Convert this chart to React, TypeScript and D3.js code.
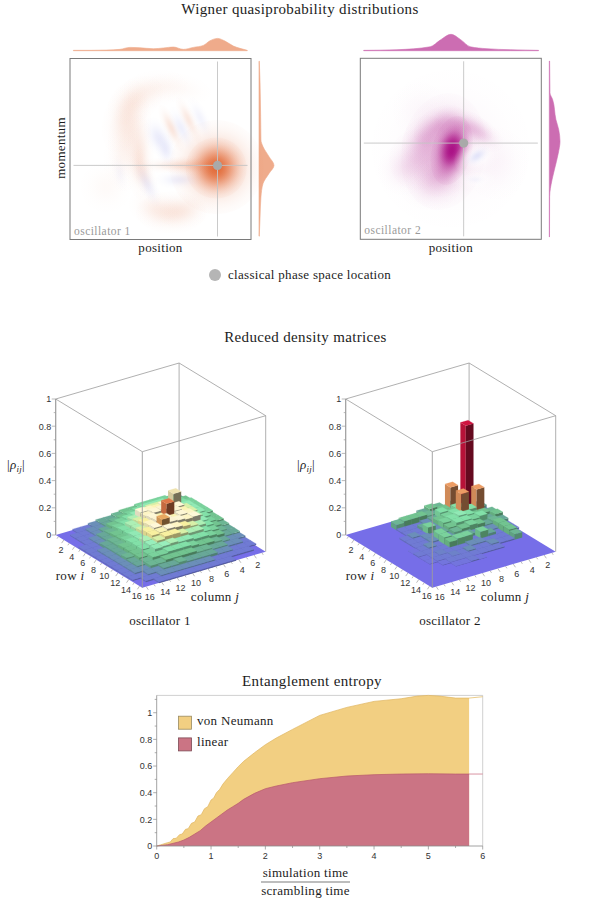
import React from 'react';
import * as d3 from 'd3';

// Wigner plots: blobs are gaussians, x / p in frame units (-10..10)
type Blob = { x: number; p: number; sx: number; sp: number; angle: number; amp: number };

const wigner1Blobs: Blob[] = [
  { x: 6.2, p: -2.0, sx: 2.0, sp: 2.0, angle: 0, amp: 0.45 },
  { x: 6.15, p: -2.1, sx: 1.3, sp: 1.3, angle: 0, amp: 0.85 },
  { x: 1.2, p: -7.0, sx: 1.5, sp: 0.9, angle: 0, amp: 0.13 },
  { x: -0.8, p: -6.5, sx: 1.1, sp: 0.8, angle: 20, amp: 0.06 },
  { x: 2.9, p: -6.6, sx: 1.2, sp: 0.8, angle: -15, amp: 0.06 },
  { x: -3.4, p: 1.7, sx: 0.9, sp: 1.8, angle: 10, amp: 0.1 },
  { x: -3.9, p: 3.6, sx: 0.9, sp: 1.6, angle: 20, amp: 0.09 },
  { x: -2.8, p: 5.4, sx: 1.3, sp: 0.9, angle: -35, amp: 0.09 },
  { x: -0.8, p: 6.6, sx: 1.5, sp: 0.8, angle: -10, amp: 0.06 },
  { x: 2.1, p: 6.7, sx: 1.5, sp: 0.7, angle: 10, amp: 0.03 },
  { x: -2.3, p: -0.85, sx: 0.6, sp: 1.8, angle: 0, amp: 0.13 },
  { x: -1.9, p: -2.7, sx: 0.5, sp: 1.1, angle: -20, amp: 0.08 },
  { x: -4.1, p: -1.2, sx: 0.9, sp: 1.4, angle: 0, amp: 0.04 },
  { x: -6.0, p: -4.2, sx: 1.2, sp: 1.2, angle: 0, amp: 0.03 },
  { x: 1.4, p: -1.8, sx: 1.6, sp: 0.36, angle: 0, amp: 0.1 },
  { x: 3.6, p: -1.8, sx: 1.4, sp: 0.42, angle: 0, amp: 0.14 },
  { x: 1.2, p: 2.3, sx: 0.33, sp: 1.1, angle: -25, amp: 0.16 },
  { x: 3.1, p: 3.2, sx: 0.33, sp: 1.1, angle: -25, amp: 0.14 },
  { x: 2.3, p: 2.3, sx: 0.38, sp: 1.0, angle: -25, amp: -0.2 },
  { x: 4.4, p: 3.4, sx: 0.36, sp: 1.0, angle: -25, amp: -0.14 },
  { x: -0.2, p: 1.2, sx: 0.55, sp: 0.95, angle: -25, amp: -0.24 },
  { x: 0.6, p: -0.1, sx: 0.42, sp: 0.75, angle: -10, amp: -0.2 },
  { x: -1.5, p: -3.8, sx: 0.4, sp: 1.1, angle: -25, amp: -0.2 },
  { x: 2.0, p: -3.4, sx: 1.0, sp: 0.4, angle: 0, amp: -0.2 },
  { x: -4.5, p: -2.7, sx: 0.35, sp: 0.8, angle: -10, amp: -0.08 },
];

const wigner2Blobs: Blob[] = [
  { x: 0, p: 0, sx: 3.4, sp: 3.4, angle: 0, amp: 0.05 },
  { x: -3.4, p: 4.3, sx: 1.4, sp: 1.4, angle: 0, amp: 0.02 },
  { x: 5, p: -1.6, sx: 1.5, sp: 1.7, angle: 0, amp: 0.03 },
  { x: -0.8, p: -0.3, sx: 1.8, sp: 2.5, angle: 10, amp: 0.3 },
  { x: -1.2, p: 2.5, sx: 1.2, sp: 0.8, angle: -30, amp: 0.22 },
  { x: 1.4, p: 2.5, sx: 1.3, sp: 0.7, angle: 20, amp: 0.22 },
  { x: 3.3, p: 1.7, sx: 1.1, sp: 0.6, angle: 35, amp: 0.14 },
  { x: -3.0, p: 1.0, sx: 0.9, sp: 1.1, angle: 30, amp: 0.16 },
  { x: -3.7, p: -1.2, sx: 1.2, sp: 1.3, angle: 0, amp: 0.14 },
  { x: -5.2, p: -2.3, sx: 1.1, sp: 1.1, angle: 0, amp: 0.07 },
  { x: -2.3, p: -4.2, sx: 1.3, sp: 1.0, angle: 0, amp: 0.07 },
  { x: -1.2, p: -3, sx: 1.1, sp: 0.9, angle: 0, amp: 0.14 },
  { x: 0.1, p: -0.2, sx: 0.85, sp: 1.5, angle: 14, amp: 1 },
  { x: 0.3, p: 0.4, sx: 0.7, sp: 0.85, angle: 14, amp: 0.45 },
];
const wigner2Clear: Blob[] = [
  { x: 2.9, p: -0.9, sx: 1.0, sp: 0.72, angle: -20, amp: 1 },
  { x: 2.7, p: -3.4, sx: 1.1, sp: 0.5, angle: 0, amp: 0.6 },
];
const wigner2Negative: Blob[] = [
  { x: 2.9, p: -0.8, sx: 0.62, sp: 0.34, angle: -35, amp: -0.34 },
  { x: 2.7, p: -3.4, sx: 0.5, sp: 0.22, angle: 0, amp: -0.1 },
];

const classical1 = { x: 6.3, p: -1.81 };
const classical2 = { x: 1.42, p: 0.63 };

const marginal1TopX = [-9.63, -7.79, -5.95, -4.48, -3.37, -2.27, -0.79, 0.31, 1.42, 2.52, 3.63, 4.73, 5.47, 6.32, 7.13, 8.05, 8.78, 9.59];
const marginal1TopV = [0.03, 0.03, 0.05, 0.11, 0.27, 0.24, 0.16, 0.22, 0.3, 0.11, 0.27, 0.43, 0.81, 1, 0.78, 0.38, 0.19, 0.03];
const marginal1SideP = [9.7, 7.3, 3.6, 1, 0.26, -0.85, -1.81, -2.7, -3.81, -5.3, -7.52, -9.63];
const marginal1SideV = [0.02, 0.07, 0.11, 0.13, 0.27, 0.67, 1, 0.67, 0.27, 0.13, 0.07, 0.02];
const marginal2TopX = [-9.63, -5.95, -2.27, -1.16, 0.02, 1.05, 2.15, 4, 6.57, 9.7];
const marginal2TopV = [0.02, 0.06, 0.24, 0.65, 1, 0.69, 0.24, 0.12, 0.06, 0.02];
const marginal2SideP = [9.7, 6.19, 5.44, 3.22, 2.11, 0.81, -0.48, -2.33, -3.44, -5.3, -9.74];
const marginal2SideV = [0.03, 0.06, 0.31, 0.62, 0.88, 1, 0.84, 0.47, 0.25, 0.03, 0.02];

// |rho_ij| read per cell, row i down the list, column j across
const rho1 = [
  [0.03, 0.05, 0.06, 0.06, 0.06, 0.06, 0.05, 0.05, 0.04, 0.03, 0.03, 0.02, 0.01, 0.01, 0.00, 0.00],
  [0.05, 0.07, 0.07, 0.08, 0.08, 0.08, 0.07, 0.06, 0.05, 0.04, 0.03, 0.02, 0.02, 0.01, 0.01, 0.00],
  [0.06, 0.07, 0.16, 0.07, 0.10, 0.10, 0.09, 0.08, 0.07, 0.06, 0.05, 0.03, 0.02, 0.01, 0.01, 0.00],
  [0.06, 0.08, 0.07, 0.09, 0.13, 0.12, 0.125, 0.13, 0.09, 0.07, 0.06, 0.04, 0.03, 0.02, 0.01, 0.00],
  [0.06, 0.08, 0.10, 0.13, 0.14, 0.14, 0.135, 0.125, 0.10, 0.09, 0.07, 0.05, 0.03, 0.02, 0.01, 0.01],
  [0.06, 0.08, 0.10, 0.12, 0.14, 0.21, 0.12, 0.135, 0.115, 0.09, 0.07, 0.05, 0.04, 0.03, 0.01, 0.01],
  [0.05, 0.07, 0.09, 0.125, 0.135, 0.12, 0.14, 0.14, 0.125, 0.10, 0.08, 0.06, 0.04, 0.03, 0.02, 0.01],
  [0.05, 0.06, 0.08, 0.13, 0.125, 0.135, 0.14, 0.175, 0.13, 0.115, 0.08, 0.07, 0.05, 0.03, 0.02, 0.01],
  [0.04, 0.05, 0.07, 0.09, 0.10, 0.115, 0.125, 0.13, 0.12, 0.115, 0.09, 0.07, 0.05, 0.03, 0.02, 0.01],
  [0.03, 0.04, 0.06, 0.07, 0.09, 0.09, 0.10, 0.115, 0.115, 0.10, 0.085, 0.07, 0.05, 0.04, 0.02, 0.01],
  [0.03, 0.03, 0.05, 0.06, 0.07, 0.07, 0.08, 0.08, 0.09, 0.085, 0.08, 0.06, 0.05, 0.03, 0.02, 0.01],
  [0.02, 0.02, 0.03, 0.04, 0.05, 0.05, 0.06, 0.07, 0.07, 0.07, 0.06, 0.06, 0.04, 0.03, 0.02, 0.01],
  [0.01, 0.02, 0.02, 0.03, 0.03, 0.04, 0.04, 0.05, 0.05, 0.05, 0.05, 0.04, 0.04, 0.02, 0.02, 0.01],
  [0.01, 0.01, 0.01, 0.02, 0.02, 0.03, 0.03, 0.03, 0.03, 0.04, 0.03, 0.03, 0.02, 0.02, 0.01, 0.01],
  [0.00, 0.01, 0.01, 0.01, 0.01, 0.01, 0.02, 0.02, 0.02, 0.02, 0.02, 0.02, 0.02, 0.01, 0.01, 0.00],
  [0.00, 0.00, 0.00, 0.00, 0.01, 0.01, 0.01, 0.01, 0.01, 0.01, 0.01, 0.01, 0.01, 0.01, 0.00, 0.00],
];
const rho2 = [
  [0.00, 0.01, 0.03, 0.01, 0.04, 0.05, 0.03, 0.01, 0.01, 0.00, 0.00, 0.00, 0.00, 0.00, 0.00, 0.00],
  [0.01, 0.62, 0.03, 0.20, 0.05, 0.03, 0.04, 0.05, 0.05, 0.05, 0.04, 0.00, 0.00, 0.00, 0.00, 0.00],
  [0.03, 0.03, 0.06, 0.07, 0.05, 0.07, 0.03, 0.02, 0.01, 0.01, 0.01, 0.00, 0.00, 0.00, 0.00, 0.00],
  [0.01, 0.20, 0.07, 0.20, 0.07, 0.06, 0.05, 0.02, 0.03, 0.01, 0.01, 0.00, 0.00, 0.00, 0.00, 0.00],
  [0.04, 0.05, 0.05, 0.07, 0.08, 0.07, 0.06, 0.02, 0.06, 0.01, 0.02, 0.01, 0.00, 0.00, 0.00, 0.00],
  [0.05, 0.03, 0.07, 0.06, 0.07, 0.07, 0.05, 0.03, 0.01, 0.02, 0.01, 0.01, 0.00, 0.00, 0.00, 0.00],
  [0.03, 0.04, 0.03, 0.05, 0.06, 0.05, 0.04, 0.02, 0.06, 0.02, 0.01, 0.01, 0.00, 0.00, 0.00, 0.00],
  [0.01, 0.05, 0.02, 0.02, 0.02, 0.03, 0.02, 0.01, 0.06, 0.01, 0.02, 0.01, 0.005, 0.00, 0.00, 0.00],
  [0.01, 0.05, 0.01, 0.03, 0.06, 0.01, 0.06, 0.06, 0.05, 0.01, 0.01, 0.01, 0.01, 0.00, 0.00, 0.00],
  [0.00, 0.05, 0.01, 0.01, 0.01, 0.02, 0.02, 0.01, 0.01, 0.01, 0.015, 0.01, 0.005, 0.00, 0.00, 0.00],
  [0.00, 0.04, 0.01, 0.01, 0.02, 0.01, 0.01, 0.02, 0.01, 0.015, 0.01, 0.01, 0.005, 0.00, 0.00, 0.00],
  [0.00, 0.00, 0.00, 0.00, 0.01, 0.01, 0.01, 0.01, 0.01, 0.01, 0.01, 0.005, 0.00, 0.00, 0.00, 0.00],
  [0.00, 0.00, 0.00, 0.00, 0.00, 0.00, 0.00, 0.005, 0.01, 0.005, 0.005, 0.00, 0.00, 0.00, 0.00, 0.00],
  [0.00, 0.00, 0.00, 0.00, 0.00, 0.00, 0.00, 0.00, 0.00, 0.00, 0.00, 0.00, 0.00, 0.00, 0.00, 0.00],
  [0.00, 0.00, 0.00, 0.00, 0.00, 0.00, 0.00, 0.00, 0.00, 0.00, 0.00, 0.00, 0.00, 0.00, 0.00, 0.00],
  [0.00, 0.00, 0.00, 0.00, 0.00, 0.00, 0.00, 0.00, 0.00, 0.00, 0.00, 0.00, 0.00, 0.00, 0.00, 0.00],
];
const rhoColorStops = [0, 0.015, 0.03, 0.05, 0.07, 0.085, 0.1, 0.115, 0.13, 0.15, 0.16, 0.175, 0.2, 0.21, 0.4, 0.62];
const rhoColors = ['#766ee8', '#6d82c8', '#68a898', '#72c490', '#82e0a8', '#98eebc', '#d8f0a8', '#f8f0a0', '#fff8d8', '#f6eecc', '#efe3b0', '#e8a860', '#ec9c64', '#e07848', '#d85040', '#cf1440'];
const zTicks = [0, 0.2, 0.4, 0.6, 0.8, 1];
const matrixTicks = [2, 4, 6, 8, 10, 12, 14, 16];

// entanglement entropy
const timeV = [0, 0.1, 0.2, 0.25, 0.3, 0.36, 0.42, 0.47, 0.53, 0.58, 0.64, 0.7, 0.76, 0.82, 0.88, 0.94, 1, 1.05, 1.1, 1.16, 1.22, 1.3, 1.4, 1.5, 1.6, 1.8, 2, 2.2, 2.5, 3, 3.5, 4, 4.5, 4.8, 5, 5.2, 5.5, 5.75];
const vonNeumann = [0, 0.012, 0.025, 0.03, 0.055, 0.058, 0.085, 0.09, 0.125, 0.13, 0.17, 0.18, 0.225, 0.235, 0.28, 0.295, 0.345, 0.36, 0.40, 0.425, 0.465, 0.505, 0.55, 0.595, 0.635, 0.70, 0.76, 0.81, 0.875, 0.98, 1.04, 1.085, 1.105, 1.125, 1.13, 1.125, 1.11, 1.11];
const timeL = [0, 0.2, 0.4, 0.5, 0.6, 0.7, 0.8, 0.9, 1, 1.1, 1.2, 1.3, 1.4, 1.5, 1.6, 1.8, 2, 2.2, 2.5, 3, 3.5, 4, 4.5, 5, 5.5, 5.75];
const linearEntropy = [0, 0.01, 0.03, 0.045, 0.065, 0.09, 0.115, 0.15, 0.18, 0.21, 0.24, 0.27, 0.295, 0.32, 0.35, 0.395, 0.43, 0.45, 0.475, 0.505, 0.525, 0.535, 0.54, 0.542, 0.54, 0.54];
const vonNeumannEnd = 1.12;
const linearEnd = 0.54;
const timeEnd = 5.75;

const SERIF = '"Liberation Serif", serif';
const SANS = '"Liberation Sans", sans-serif';
const ORANGE = '#e0602a';
const MAGENTA = '#ab1286';
const LAVENDER = '#aeb2ee';
const INK = '#1c1c1c';

const gaussStops = d3.range(0, 1.01, 0.1);

const Gradient = ({ id, color }: { id: string; color: string }) => (
  <radialGradient id={id}>
    {gaussStops.map(t => (
      <stop key={t} offset={t} stopColor={color} stopOpacity={Math.exp(-((t * 2.6) ** 2) / 2)} />
    ))}
  </radialGradient>
);

interface WignerProps {
  left: number;
  top: number;
  blobs: Blob[];
  clear?: Blob[];
  negative?: Blob[];
  gradient: string;
  fillColor: string;
  classical: { x: number; p: number };
  topX: number[];
  topV: number[];
  sideP: number[];
  sideV: number[];
  topPeak: number;
  sidePeak: number;
  sideBase: number;
  label: string;
}

const Wigner: React.FC<WignerProps> = p => {
  const size = 181;
  const x = d3.scaleLinear().domain([-10, 10]).range([p.left, p.left + size]);
  const y = d3.scaleLinear().domain([-10, 10]).range([p.top + size, p.top]);
  const topH = d3.scaleLinear().domain([0, 1]).range([50.7, 50.7 - p.topPeak]);
  const sideW = d3.scaleLinear().domain([0, 1]).range([p.sideBase, p.sideBase + p.sidePeak]);

  const topArea = d3.area<number>()
    .x((_, i) => x(p.topX[i])).y0(50.7).y1(d => topH(d)).curve(d3.curveMonotoneX);
  const sideArea = d3.area<number>()
    .y((_, i) => y(p.sideP[i])).x0(p.sideBase).x1(d => sideW(d)).curve(d3.curveMonotoneY);

  const drawBlob = (b: Blob, i: number, fill: string) => (
    <ellipse
      key={fill + i}
      cx={x(b.x)}
      cy={y(b.p)}
      rx={(b.sx * 2.6 * size) / 20}
      ry={(b.sp * 2.6 * size) / 20}
      fill={fill}
      opacity={Math.abs(b.amp)}
      transform={`rotate(${b.angle} ${x(b.x)} ${y(b.p)})`}
    />
  );

  return (
    <g>
      <path d={topArea(p.topV) || ''} fill={p.fillColor} stroke={p.fillColor} strokeWidth={0.6} />
      <path d={sideArea(p.sideV) || ''} fill={p.fillColor} stroke={p.fillColor} strokeWidth={0.6} />
      {p.blobs.filter(b => b.amp > 0).map((b, i) => drawBlob(b, i, `url(#${p.gradient})`))}
      {(p.clear || []).map((b, i) => drawBlob(b, i, 'url(#gWhite)'))}
      {p.blobs.filter(b => b.amp < 0).map((b, i) => drawBlob(b, i, 'url(#gLav)'))}
      {(p.negative || []).map((b, i) => drawBlob(b, i + 100, 'url(#gLav)'))}
      <line x1={x(p.classical.x)} x2={x(p.classical.x)} y1={p.top + 3} y2={p.top + size - 3} stroke="#c4c4c4" strokeWidth={0.9} />
      <line x1={p.left + 3.5} x2={p.left + size - 3.5} y1={y(p.classical.p)} y2={y(p.classical.p)} stroke="#c4c4c4" strokeWidth={0.9} />
      <circle cx={x(p.classical.x)} cy={y(p.classical.p)} r={4.6} fill="#a9a9a9" />
      <rect x={p.left} y={p.top} width={size} height={size} fill="none" stroke="#7a7a7a" strokeWidth={1} />
      <text x={p.left + 4} y={p.top + size - 5} fontFamily={SERIF} fontSize={11.5} letterSpacing={0.45} fill="#9a9a9a">{p.label}</text>
      <text x={p.left + size / 2} y={252} textAnchor="middle" fontFamily={SERIF} fontSize={13} letterSpacing={0.3} fill={INK}>position</text>
    </g>
  );
};

const rhoColor = d3.scaleLinear<string>().domain(rhoColorStops).range(rhoColors).interpolate(d3.interpolateRgb).clamp(true);

// right faces stay lighter on the low cells, the tall bars go properly dark
const sideShade = (z: number) => (z < 0.05 ? 0.8 : z < 0.12 ? 1.3 : 2);

const Matrix: React.FC<{ dx: number; rho: number[][]; label: string; ylabelX: number }> = ({ dx, rho, label, ylabelX }) => {
  const backX = 179.1 + dx, backY = 499;
  const barShift = 1.3;
  const rowStep = d3.scaleLinear().domain([0, 16]);
  const toRight = [86.6, 52.7];
  const toLeft = [-123.4, 36];
  const zScale = d3.scaleLinear().domain([0, 1]).range([0, 136]);
  const pt = (i: number, j: number, z = 0): [number, number] => {
    const u = rowStep(i), v = rowStep(j);
    return [backX + u * toRight[0] + v * toLeft[0], backY + u * toRight[1] + v * toLeft[1] - zScale(z)];
  };
  const poly = (pts: [number, number][]) => pts.map(q => q.join(',')).join(' ');

  const cells = d3.cross(d3.range(16), d3.range(16))
    .sort((a, b) => a[0] + a[1] - (b[0] + b[1]))
    .filter(([i, j]) => rho[i][j] > 0);

  const edge = '#9c9c9c';
  const leftAxis = pt(0, 16);
  const minor = d3.range(0, 1.01, 0.1);

  const line = (a: [number, number], b: [number, number], w = 0.8) => (
    <line x1={a[0]} y1={a[1]} x2={b[0]} y2={b[1]} stroke={edge} strokeWidth={w} />
  );

  return (
    <g>
      {line(pt(0, 0), pt(0, 0, 1))}
      {line(pt(0, 0, 1), pt(0, 16, 1))}
      {line(pt(0, 0, 1), pt(16, 0, 1))}
      <polygon points={poly([pt(0, 0), pt(16, 0), pt(16, 16), pt(0, 16)])} fill={rhoColors[0]} />
      <g transform={`translate(${barShift},0)`}>
        {cells.map(([i, j]) => {
          const z = rho[i][j];
          const c = d3.color(rhoColor(z))!;
          return (
            <g key={`${i}-${j}`}>
              <polygon points={poly([pt(i, j + 1, z), pt(i + 1, j + 1, z), pt(i + 1, j + 1), pt(i, j + 1)])} fill={c.darker(0.35).formatHex()} />
              <polygon points={poly([pt(i + 1, j + 1, z), pt(i + 1, j, z), pt(i + 1, j), pt(i + 1, j + 1)])} fill={c.darker(sideShade(z)).formatHex()} />
              <polygon points={poly([pt(i, j, z), pt(i + 1, j, z), pt(i + 1, j + 1, z), pt(i, j + 1, z)])} fill={c.formatHex()} stroke={c.formatHex()} strokeWidth={0.2} />
            </g>
          );
        })}
      </g>
      {line(pt(16, 16), pt(16, 16, 1), 0.9)}
      {line(pt(0, 16), pt(0, 16, 1), 1.2)}
      {line(pt(16, 0), pt(16, 0, 1))}
      {line(pt(0, 16, 1), pt(16, 16, 1))}
      {line(pt(16, 16, 1), pt(16, 0, 1))}
      {minor.map(t => {
        const major = Math.round(t * 10) % 2 === 0;
        const yy = leftAxis[1] - zScale(t);
        return (
          <line key={t} x1={leftAxis[0] - (major ? 4 : 2)} x2={leftAxis[0]} y1={yy} y2={yy} stroke={edge} strokeWidth={0.7} />
        );
      })}
      {zTicks.map(t => (
        <text key={t} x={leftAxis[0] - 4.5} y={leftAxis[1] - zScale(t) + 3.3} textAnchor="end" fontFamily={SANS} fontSize={9} fill="#333">{t}</text>
      ))}
      {d3.range(1, 17).map(k => {
        const a = pt(k - 0.5, 16), b = pt(16, k - 0.5);
        const len = k % 2 === 0 ? 4 : 2.5;
        return (
          <g key={k}>
            <line x1={a[0]} y1={a[1]} x2={a[0] - len * 0.55} y2={a[1] + len * 0.8} stroke={edge} strokeWidth={0.7} />
            <line x1={b[0]} y1={b[1]} x2={b[0] + len * 0.55} y2={b[1] + len * 0.8} stroke={edge} strokeWidth={0.7} />
          </g>
        );
      })}
      {matrixTicks.map(k => {
        const a = pt(k - 0.5, 16), b = pt(16, k - 0.5);
        return (
          <g key={k} fontFamily={SANS} fontSize={9} fill="#333" textAnchor="middle">
            <text x={a[0] - 2.8} y={a[1] + 13.2}>{k}</text>
            <text x={b[0] + 3.6} y={b[1] + 13}>{k}</text>
          </g>
        );
      })}
      <g fontFamily={SERIF} fontSize={13} fill={INK} letterSpacing={0.3}>
        <text x={70 + dx} y={580} textAnchor="middle">row <tspan fontStyle="italic">i</tspan></text>
        <text x={215 + dx} y={601} textAnchor="middle">column <tspan fontStyle="italic">j</tspan></text>
        <text x={160 + dx} y={625} textAnchor="middle">{label}</text>
        <text x={ylabelX} y={469} textAnchor="middle">|<tspan fontStyle="italic">ρ</tspan><tspan fontStyle="italic" fontSize={9} dy={3}>ij</tspan><tspan dy={-3}>|</tspan></text>
      </g>
    </g>
  );
};

const Entropy: React.FC = () => {
  const x = d3.scaleLinear().domain([0, 6]).range([156.7, 482.7]);
  const y = d3.scaleLinear().domain([0, 1.13]).range([846, 695.4]);
  const areaOf = (ts: number[]) => d3.area<number>().x((_, i) => x(ts[i])).y0(y(0)).y1(d => y(d));
  const lineOf = (ts: number[]) => d3.line<number>().x((_, i) => x(ts[i])).y(d => y(d));
  const axis = '#8a8a8a';
  return (
    <g>
      <line x1={x(0)} x2={x(6)} y1={y(1.13)} y2={y(1.13)} stroke="#bbb" strokeWidth={0.7} />
      <line x1={x(6)} x2={x(6)} y1={y(1.13)} y2={y(0)} stroke="#bbb" strokeWidth={0.7} />
      <path d={areaOf(timeV)(vonNeumann) || ''} fill="#f2cf82" />
      <path d={lineOf(timeV)(vonNeumann) || ''} fill="none" stroke="#e0b45e" strokeWidth={0.7} />
      <line x1={x(timeEnd)} x2={x(6)} y1={y(vonNeumann[vonNeumann.length - 1])} y2={y(vonNeumannEnd)} stroke="#e6c06c" strokeWidth={0.8} />
      <path d={areaOf(timeL)(linearEntropy) || ''} fill="#cb7484" />
      <path d={lineOf(timeL)(linearEntropy) || ''} fill="none" stroke="#b8586c" strokeWidth={0.7} />
      <line x1={x(timeEnd)} x2={x(6)} y1={y(linearEnd)} y2={y(linearEnd)} stroke="#d0788c" strokeWidth={0.8} />
      <line x1={x(0)} x2={x(6)} y1={y(0)} y2={y(0)} stroke={axis} strokeWidth={0.8} />
      <line x1={x(0)} x2={x(0)} y1={y(0)} y2={y(1.13)} stroke={axis} strokeWidth={0.8} />
      {d3.range(0, 6.01, 0.5).map(t => (
        <line key={t} x1={x(t)} x2={x(t)} y1={y(0)} y2={y(0) + (t % 1 === 0 ? 3.5 : 2)} stroke={axis} strokeWidth={0.7} />
      ))}
      {d3.range(0, 1.11, 0.1).map(t => (
        <line key={t} x1={x(0)} x2={x(0) - (Math.round(t * 10) % 2 === 0 ? 3.5 : 2)} y1={y(t)} y2={y(t)} stroke={axis} strokeWidth={0.7} />
      ))}
      {x.ticks(6).map(t => (
        <text key={t} x={x(t)} y={858.5} textAnchor="middle" fontFamily={SANS} fontSize={9} fill="#333">{t}</text>
      ))}
      {[0, 0.2, 0.4, 0.6, 0.8, 1].map(t => (
        <text key={t} x={x(0) - 4.5} y={y(t) + 3.2} textAnchor="end" fontFamily={SANS} fontSize={9} fill="#333">{t}</text>
      ))}
      <rect x={178.5} y={716.2} width={13} height={13} fill="#f2cf82" stroke="#9a8a60" strokeWidth={0.8} />
      <rect x={178.5} y={737.9} width={13} height={13} fill="#cb7484" stroke="#7c4a54" strokeWidth={0.8} />
      <g fontFamily={SERIF} fontSize={13} letterSpacing={0.3} fill={INK}>
        <text x={197} y={725}>von Neumann</text>
        <text x={197} y={746}>linear</text>
        <text x={305.5} y={877} textAnchor="middle">simulation time</text>
        <text x={305.5} y={895} textAnchor="middle">scrambling time</text>
      </g>
      <line x1={261} x2={350} y1={882} y2={882} stroke="#444" strokeWidth={0.7} />
    </g>
  );
};

const App: React.FC = () => (
  <svg width={600} height={901} style={{ position: 'absolute', left: 0, top: 0, background: '#fff' }}>
    <defs>
      <Gradient id="gOrange" color={ORANGE} />
      <Gradient id="gMagenta" color={MAGENTA} />
      <Gradient id="gLav" color={LAVENDER} />
      <Gradient id="gWhite" color="#ffffff" />
    </defs>
    <g fontFamily={SERIF} fontSize={15} letterSpacing={0.35} fill={INK} textAnchor="middle">
      <text x={300} y={14}>Wigner quasiprobability distributions</text>
      <text x={305.5} y={342}>Reduced density matrices</text>
      <text x={312} y={686}>Entanglement entropy</text>
    </g>
    <Wigner left={70} top={58.5} blobs={wigner1Blobs} gradient="gOrange" fillColor="#efab8b" classical={classical1}
      topX={marginal1TopX} topV={marginal1TopV} sideP={marginal1SideP} sideV={marginal1SideV} topPeak={12.3} sidePeak={15} sideBase={259} label="oscillator 1" />
    <Wigner left={360.3} top={58.3} blobs={wigner2Blobs} clear={wigner2Clear} negative={wigner2Negative} gradient="gMagenta" fillColor="#cc6db2" classical={classical2}
      topX={marginal2TopX} topV={marginal2TopV} sideP={marginal2SideP} sideV={marginal2SideV} topPeak={16.4} sidePeak={10.7} sideBase={549.3} label="oscillator 2" />
    <text x={61} y={148} transform="rotate(-90 61 148)" dy={4} textAnchor="middle" fontFamily={SERIF} fontSize={13} letterSpacing={0.3} fill={INK}>momentum</text>
    <circle cx={215} cy={275} r={6} fill="#b5b5b5" />
    <text x={228} y={279} fontFamily={SERIF} fontSize={13} letterSpacing={0.3} fill={INK}>classical phase space location</text>
    <Matrix dx={0} rho={rho1} label="oscillator 1" ylabelX={16} />
    <Matrix dx={290} rho={rho2} label="oscillator 2" ylabelX={306} />
    <Entropy />
  </svg>
);

export default App;
